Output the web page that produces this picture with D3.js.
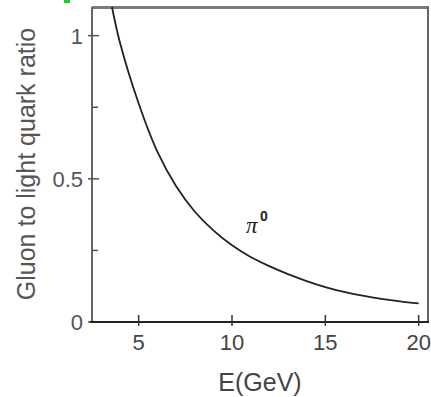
<!DOCTYPE html>
<html><head><meta charset="utf-8">
<script src="https://cdn.jsdelivr.net/npm/d3@7"></script>
<style>body{margin:0;background:#fff}svg{display:block}</style>
</head><body>
<svg id="c" width="431" height="397"></svg>
<script>
const energy = [3.57, 4, 5, 6, 7, 8, 9, 10, 11, 12, 13, 14, 15, 16, 17, 18, 19, 20];
const ratio  = [1.10, 0.975, 0.763, 0.595, 0.475, 0.386, 0.32, 0.268, 0.227, 0.195, 0.167, 0.143, 0.122, 0.105, 0.092, 0.081, 0.072, 0.065];
const xTicks = [5, 10, 15, 20];
const yTicks = [0, 0.5, 1];
const yMinor = [0.25, 0.75];
const yTickLabels = ["0", "0.5", "1"];
const xTitle = "E(GeV)";
const yTitle = "Gluon to light quark ratio";
const curveLabel = "π";
const curveSup = "0";

const svg = d3.select("#c");
const L = 92, R = 428, T = 7, B = 322;
const x = d3.scaleLinear().domain([2.5, 20.5]).range([L, R]);
const y = d3.scaleLinear().domain([0, 1.1]).range([B, T]);
const font = "Liberation Sans, Arial, Helvetica, sans-serif";

// small green mark at top-left
svg.append("rect").attr("x", 64).attr("y", 0).attr("width", 6).attr("height", 3).attr("fill", "#22cc22");

// frame top and right
svg.append("line").attr("x1", L).attr("x2", R + 1).attr("y1", T + 0.5).attr("y2", T + 0.5)
  .attr("stroke", "#7a7a7a").attr("stroke-width", 3);
svg.append("line").attr("x1", R).attr("x2", R).attr("y1", T).attr("y2", B)
  .attr("stroke", "#666").attr("stroke-width", 2);

// y axis
svg.append("line").attr("x1", L).attr("x2", L).attr("y1", T).attr("y2", B + 1)
  .attr("stroke", "#666").attr("stroke-width", 2);
svg.selectAll(".yt").data(yTicks).join("line")
  .attr("x1", L - 4).attr("x2", L + 7).attr("y1", d => y(d)).attr("y2", d => y(d))
  .attr("stroke", "#555").attr("stroke-width", 1.5);
svg.selectAll(".ym").data(yMinor).join("line")
  .attr("x1", L).attr("x2", L + 6).attr("y1", d => y(d)).attr("y2", d => y(d))
  .attr("stroke", "#555").attr("stroke-width", 1.5);
svg.selectAll(".yl").data(yTicks).join("text")
  .attr("x", L - 9).attr("y", d => y(d)).attr("dy", "0.36em")
  .attr("text-anchor", "end").attr("font-family", font).attr("font-size", 22)
  .attr("fill", "#555").text((d, i) => yTickLabels[i]);

// x axis
svg.append("line").attr("x1", L - 2).attr("x2", R + 1).attr("y1", B).attr("y2", B)
  .attr("stroke", "#222").attr("stroke-width", 2);
svg.selectAll(".xt").data(xTicks).join("line")
  .attr("x1", d => x(d)).attr("x2", d => x(d)).attr("y1", B - 7).attr("y2", B + 4)
  .attr("stroke", "#333").attr("stroke-width", 1.5);
svg.selectAll(".xl").data(xTicks).join("text")
  .attr("x", d => x(d)).attr("y", B + 28)
  .attr("text-anchor", "middle").attr("font-family", font).attr("font-size", 22)
  .attr("fill", "#444").text(d => d);

// titles
svg.append("text").attr("x", 260).attr("y", 391).attr("text-anchor", "middle")
  .attr("font-family", font).attr("font-size", 25).attr("fill", "#444").text(xTitle);
svg.append("text").attr("transform", "translate(35,164) rotate(-90)").attr("text-anchor", "middle")
  .attr("font-family", font).attr("font-size", 25).attr("fill", "#555").text(yTitle);

// curve
const pts = energy.map((e, i) => [e, ratio[i]]);
svg.append("path").datum(pts)
  .attr("d", d3.line().x(d => x(d[0])).y(d => y(d[1])).curve(d3.curveCatmullRom.alpha(0.5)))
  .attr("fill", "none").attr("stroke", "#222").attr("stroke-width", 1.8);

// label
svg.append("text").attr("x", 246).attr("y", 233).attr("font-family", "Liberation Serif, serif")
  .attr("font-style", "italic").attr("font-size", 23).attr("fill", "#222").text(curveLabel);
svg.append("text").attr("x", 260).attr("y", 221).attr("font-family", font)
  .attr("font-weight", "bold").attr("font-size", 14).attr("fill", "#222").text(curveSup);
</script>
</body></html>
